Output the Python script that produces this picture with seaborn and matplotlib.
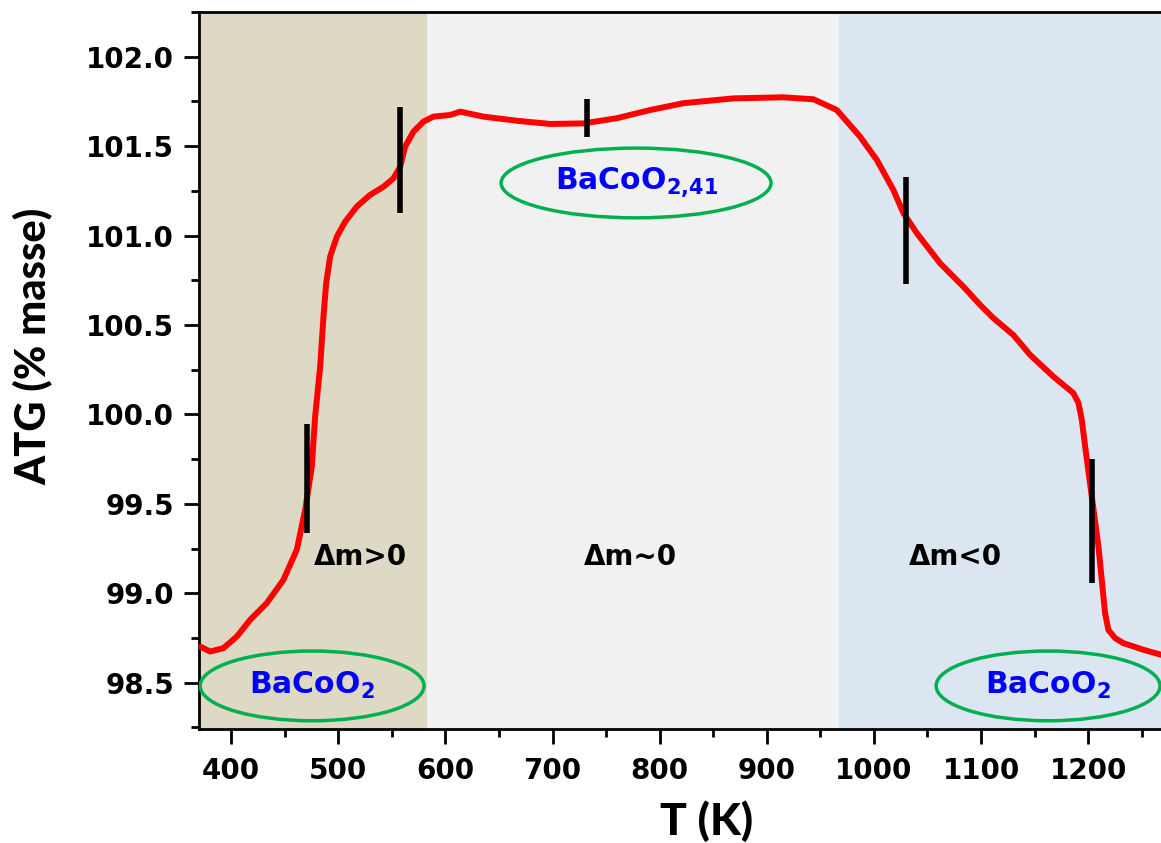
import numpy as np
import pandas as pd
import matplotlib
matplotlib.use("Agg")
import matplotlib.pyplot as plt
import seaborn as sns
from matplotlib.patches import Ellipse
from matplotlib.ticker import MultipleLocator

# ---------------- data ----------------
T_K = [371.1, 380.4, 392.8, 405.3, 417.7, 433.3, 448.8, 461.3, 469.1, 475.3,
       478.4, 483.1, 486.2, 488.7, 492.4, 498.7, 506.5, 517.3, 529.7, 542.2,
       551.5, 557.8, 562.4, 570.2, 579.5, 588.8, 604.4, 613.8, 635.5, 666.7,
       697.8, 728.9, 760.0, 791.1, 822.2, 868.9, 915.5, 943.6, 965.4, 987.1,
       1002.7, 1018.2, 1027.6, 1040.1, 1061.8, 1083.6, 1099.2, 1111.6, 1130.2, 1145.8,
       1167.6, 1186.2, 1191.0, 1194.1, 1197.2, 1203.4, 1209.6, 1215.8, 1218.9, 1225.2,
       1232.9, 1251.6, 1268.1]
atg = [98.702, 98.674, 98.693, 98.758, 98.851, 98.945, 99.075, 99.243, 99.466, 99.708,
       99.988, 100.267, 100.547, 100.733, 100.882, 100.994, 101.078, 101.162, 101.227, 101.273,
       101.320, 101.385, 101.497, 101.581, 101.637, 101.665, 101.674, 101.693, 101.665, 101.642,
       101.624, 101.627, 101.656, 101.702, 101.740, 101.767, 101.773, 101.762, 101.702, 101.553,
       101.423, 101.255, 101.125, 101.013, 100.845, 100.714, 100.612, 100.538, 100.444, 100.333,
       100.211, 100.119, 100.063, 99.969, 99.820, 99.541, 99.261, 98.889, 98.795, 98.749,
       98.721, 98.684, 98.656]

# vertical black markers
marker_T = [470.7, 557.5, 732.6, 1029.8, 1204.0]
marker_lo = [99.339, 101.125, 101.549, 100.729, 99.057]
marker_hi = [99.945, 101.721, 101.764, 101.329, 99.751]

# shaded domains
region_edges = [370, 583, 967, 1268]
region_colors = ["#DDD9C4", "#F1F1F1", "#DCE6F1"]
region_labels = ["\u0394m>0", "\u0394m~0", "\u0394m<0"]
region_label_T = [521.0, 773.0, 1076.0]

phase_labels = ["BaCoO$_\\mathregular{2}$", "BaCoO$_\\mathregular{2{,}41}$", "BaCoO$_\\mathregular{2}$"]
phase_T = [475.6, 778.0, 1162.6]
phase_y = [98.482, 101.294, 98.482]

x_ticks = [400, 500, 600, 700, 800, 900, 1000, 1100, 1200]
y_ticks = [98.5, 99.0, 99.5, 100.0, 100.5, 101.0, 101.5, 102.0]

# ---------------- plot ----------------
sns.set_theme(style="ticks")
plt.rcParams["font.family"] = ["DejaVu Sans"]
plt.rcParams["text.color"] = "black"
plt.rcParams["axes.labelcolor"] = "black"
plt.rcParams["xtick.color"] = "black"
plt.rcParams["ytick.color"] = "black"

fig = plt.figure(figsize=(11.61, 8.43), dpi=100)
ax = fig.add_axes([199 / 1161, 1 - 729 / 843, 962 / 1161, 717 / 843])

for i, c in enumerate(region_colors):
    ax.axvspan(region_edges[i], region_edges[i + 1], color=c, zorder=0, lw=0)

df = pd.DataFrame({"T": T_K, "ATG": atg})
sns.lineplot(data=df, x="T", y="ATG", ax=ax, color="#FF0000", lw=4.3,
             sort=False, zorder=3)

ax.vlines(marker_T, marker_lo, marker_hi, colors="black", lw=4, zorder=4)

for lab, tx in zip(region_labels, region_label_T):
    ax.text(tx, 99.205, lab, ha="center", va="center", fontsize=20,
            fontweight="bold", color="black", zorder=5)

for lab, tx, ty in zip(phase_labels, phase_T, phase_y):
    w = 209 if "41" not in lab else 252
    ax.add_patch(Ellipse((tx, ty), w, 0.39, fill=False, ec="#00B050", lw=2.5, zorder=5))
    ax.text(tx, ty, lab, ha="center", va="center", fontsize=21.5,
            fontweight="bold", color="#0000FF", zorder=6)

ax.set_xlim(region_edges[0], region_edges[-1])
ax.set_ylim(98.241, 102.25)
ax.set_xticks(x_ticks)
ax.set_yticks(y_ticks)
ax.set_yticklabels([f"{v:.1f}" for v in y_ticks])
ax.xaxis.set_minor_locator(MultipleLocator(50))
ax.yaxis.set_minor_locator(MultipleLocator(0.25))

ax.tick_params(axis="both", which="major", direction="out", length=11, width=2,
               labelsize=20, color="black", labelcolor="black")
ax.tick_params(axis="both", which="minor", direction="out", length=6, width=2,
               color="black")
ax.tick_params(axis="y", which="major", pad=7)
ax.tick_params(axis="x", which="major", pad=9)
for lab in ax.get_xticklabels() + ax.get_yticklabels():
    lab.set_fontweight("bold")

for s in ["left", "bottom", "top"]:
    ax.spines[s].set_linewidth(2)
    ax.spines[s].set_color("black")
ax.spines["right"].set_visible(False)

ax.set_xlabel("T (K)", fontsize=32, fontweight=900, family=["Lato", "DejaVu Sans"], color="black")
ax.set_ylabel("ATG (% masse)", fontsize=30, fontweight=900, family=["Lato", "DejaVu Sans"], color="black")
ax.xaxis.set_label_coords((707 - 199) / 962, (729 - 821) / 717)
ax.xaxis.label.set_verticalalignment("center")
ax.yaxis.set_label_coords((33 - 199) / 962, (729 - 346) / 717)
ax.yaxis.label.set_verticalalignment("center")

fig.savefig("out.png", dpi=100)
